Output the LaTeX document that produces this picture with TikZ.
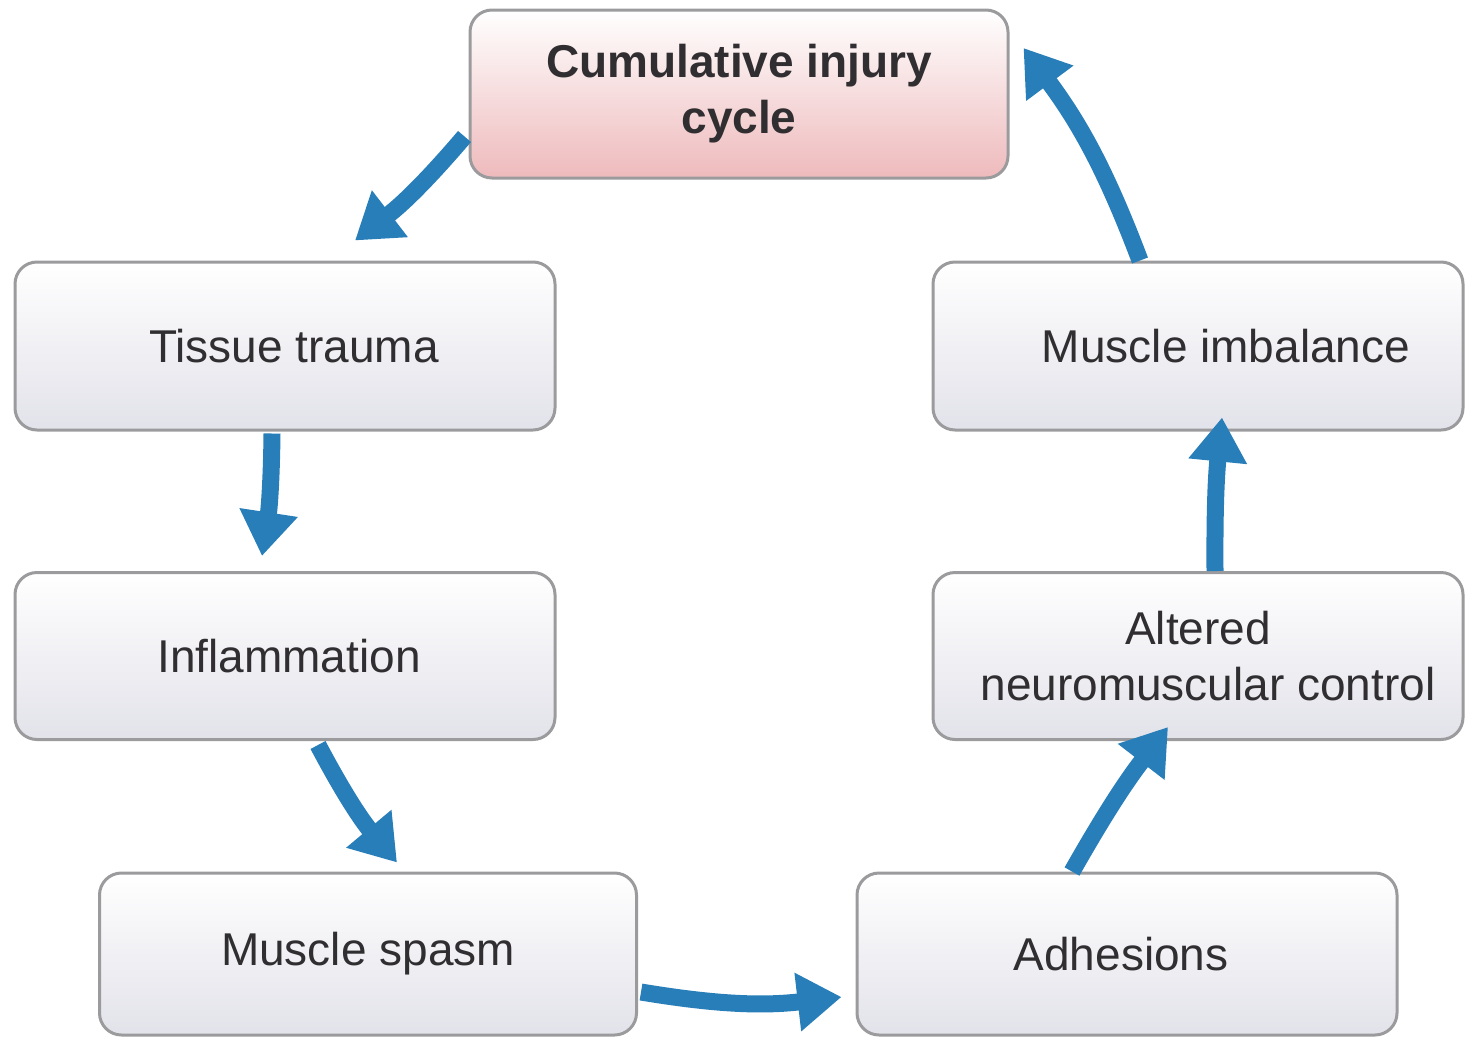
\documentclass[tikz,border=0pt]{standalone}
\usepackage{fontspec}
\setmainfont{Liberation Sans}
\usetikzlibrary{arrows.meta,calc}
\definecolor{boxline}{RGB}{155,155,158}
\definecolor{boxlow}{RGB}{226,226,234}
\definecolor{pinklow}{RGB}{238,186,188}
\definecolor{flow}{RGB}{40,126,184}
\definecolor{ink}{RGB}{48,46,48}
\begin{document}
\begin{tikzpicture}[x=1pt,y=1pt,
  box/.style={rectangle, rounded corners=22pt, draw=boxline, line width=3pt,
    top color=white, bottom color=boxlow, text=ink, align=center,
    font=\fontsize{46}{56}\selectfont, inner sep=0pt},
  hot/.style={box, bottom color=pinklow, font=\fontsize{46}{56}\selectfont\bfseries},
  flowarrow/.style={draw=flow, line width=17pt,
    -{Triangle[width=56pt,length=44pt]}}
]
\useasboundingbox (0,0) rectangle (1466,-1039);

% stages of the cycle
\node[hot, minimum width=538pt, minimum height=168pt] (cyc) at (739,-94) {Cumulative injury\\cycle};
\node[box, minimum width=540pt, minimum height=168pt] (trauma) at (285,-346) {\hspace*{18pt}Tissue trauma};
\node[box, minimum width=540pt, minimum height=167pt] (infl) at (285,-656) {\hspace*{8pt}Inflammation};
\node[box, minimum width=537pt, minimum height=162pt] (spasm) at (368,-954) {Muscle spasm};
\node[box, minimum width=540pt, minimum height=162pt] (adh) at (1127,-954) {Adhesions\hspace*{12pt}};
\node[box, minimum width=530pt, minimum height=167pt] (alt) at (1198,-656) {Altered\\\hspace*{20pt}neuromuscular control};
\node[box, minimum width=530pt, minimum height=168pt] (imb) at (1198,-346) {\hspace*{56pt}Muscle imbalance};

% arrows around the cycle
\draw[flowarrow] ($(cyc.south west)+(-4,43)$) to[bend left=6] ($(trauma.north)+(70,20)$);
\draw[flowarrow] ($(trauma.south)+(-13,-2)$) to[bend left=4] ($(infl.north)+(-23,15)$);
\draw[flowarrow] ($(infl.south)+(33,-4)$) to[bend right=6] ($(spasm.north)+(29,9)$);
\draw[flowarrow] ($(spasm.east)+(3,-38)$) to[bend right=8] ($(adh.west)+(-14,-43)$);
\draw[flowarrow] ($(adh.north)+(-55,0)$) to[bend left=4] ($(alt.south)+(-30,14)$);
\draw[flowarrow] ($(alt.north)+(17,0)$) to[bend left=3] ($(imb.south)+(24,14)$);
\draw[flowarrow] ($(imb.north)+(-58,0)$) to[bend right=8] ($(cyc.east)+(14,46)$);
\end{tikzpicture}
\end{document}
